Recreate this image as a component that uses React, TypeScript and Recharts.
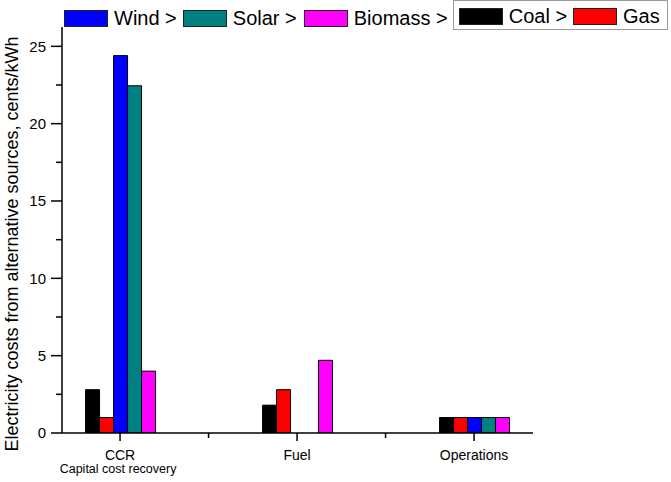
import React from "react"
import { Bar, BarChart, Customized, XAxis, YAxis } from "recharts"

// category centres sit on a numeric axis so the outer gaps match the original plot
const categories = ["CCR", "Fuel", "Operations"]
const categorySubtitles = ["Capital cost recovery", "", ""]
const categoryPositions = [1, 2, 3]

const coal = [2.8, 1.8, 1.0]
const gas = [1.0, 2.8, 1.0]
const wind = [24.4, 0, 1.0]
const solar = [22.45, 0, 1.0]
const biomass = [4.0, 4.7, 1.0]

const yTicks = [0, 2.5, 5, 7.5, 10, 12.5, 15, 17.5, 20, 22.5, 25]
const xTicks = [1, 1.5, 2, 2.5, 3]

const series = [
  { key: "coal", name: "Coal", color: "#000000", values: coal },
  { key: "gas", name: "Gas", color: "#ff0000", values: gas },
  { key: "wind", name: "Wind", color: "#0000ff", values: wind },
  { key: "solar", name: "Solar", color: "#008080", values: solar },
  { key: "biomass", name: "Biomass", color: "#ff00ff", values: biomass }
]

const data = categories.map((name, i) => {
  const row: Record<string, number | string> = { name, pos: categoryPositions[i] }
  series.forEach((s) => {
    row[s.key] = s.values[i]
  })
  return row
})

const FONT = "'Liberation Sans', Arial, sans-serif"
const WIDTH = 671
const HEIGHT = 482

function XTick(props: any) {
  const { x, y, payload } = props
  const v = payload.value
  const idx = categoryPositions.indexOf(v)
  if (idx < 0) {
    return <line x1={x} x2={x} y1={y} y2={y + 5} stroke="#000" strokeWidth={1.5} />
  }
  return (
    <g>
      <line x1={x} x2={x} y1={y} y2={y + 8} stroke="#000" strokeWidth={1.5} />
      <text x={x} y={y + 27} textAnchor="middle" fontSize={14} fill="#000">
        {categories[idx]}
      </text>
      {categorySubtitles[idx] && (
        <text x={x - 2} y={y + 40} textAnchor="middle" fontSize={12.5} fill="#000">
          {categorySubtitles[idx]}
        </text>
      )}
    </g>
  )
}

function YTick(props: any) {
  const { x, y, payload } = props
  const v = payload.value
  if (v % 5 !== 0) {
    return <line x1={x - 6} x2={x} y1={y} y2={y} stroke="#000" strokeWidth={1.5} />
  }
  return (
    <g>
      <line x1={x - 11} x2={x} y1={y} y2={y} stroke="#000" strokeWidth={1.5} />
      <text x={x - 16} y={y} dy="0.36em" textAnchor="end" fontSize={15} fill="#000">
        {v}
      </text>
    </g>
  )
}

function Swatch({ color, width = 44 }: { color: string; width?: number }) {
  return (
    <span
      style={{
        display: "inline-block",
        flex: "none",
        width,
        height: 17,
        background: color,
        border: "1px solid #222",
        boxSizing: "border-box",
        marginRight: 6
      }}
    />
  )
}

function LegendRow() {
  const byName = (n: string) => series.find((s) => s.name === n)!
  const item = (n: string, label: string, gap: number) => (
    <span style={{ display: "inline-flex", alignItems: "center", marginRight: gap, whiteSpace: "nowrap" }}>
      <Swatch color={byName(n).color} />
      <span style={{ whiteSpace: "nowrap" }}>{label}</span>
    </span>
  )
  return (
    <div
      style={{
        position: "absolute",
        left: 64,
        top: 0,
        height: 36,
        width: 620,
        display: "flex",
        alignItems: "center",
        whiteSpace: "nowrap",
        fontFamily: FONT,
        fontSize: 20,
        lineHeight: "20px",
        color: "#000"
      }}
    >
      {item("Wind", "Wind >", 6)}
      {item("Solar", "Solar >", 7)}
      {item("Biomass", "Biomass >", 5)}
      <span
        style={{
          display: "inline-flex",
          alignItems: "center",
          border: "1px solid #9a9a9a",
          padding: "5px 7px 3px 5px",
          marginTop: -6,
          whiteSpace: "nowrap"
        }}
      >
        {item("Coal", "Coal >", 6)}
        {item("Gas", "Gas", 0)}
      </span>
    </div>
  )
}

function AxisTitle() {
  return (
    <text
      x={18}
      y={244}
      transform="rotate(-90, 18, 244)"
      textAnchor="middle"
      fontSize={18}
      fill="#000"
      fontFamily={FONT}
    >
      Electricity costs from alternative sources, cents/kWh
    </text>
  )
}

export default function App() {
  return (
    <div style={{ position: "absolute", left: 0, top: 0, width: WIDTH, height: HEIGHT, background: "#fff" }}>
      <BarChart
        width={WIDTH}
        height={HEIGHT}
        data={data}
        margin={{ top: 27, right: 138, bottom: 48, left: 0 }}
        barGap={0}
        style={{ fontFamily: FONT }}
      >
        <XAxis
          dataKey="pos"
          type="number"
          domain={[0.672, 3.333]}
          allowDataOverflow
          ticks={xTicks}
          interval={0}
          height={1}
          tickSize={0}
          tickMargin={0}
          tickLine={false}
          tick={<XTick />}
          axisLine={{ stroke: "#000", strokeWidth: 1.5 }}
        />
        <YAxis
          type="number"
          domain={[0, 26.25]}
          allowDataOverflow
          ticks={yTicks}
          interval={0}
          width={62}
          tickSize={0}
          tickMargin={0}
          tickLine={false}
          tick={<YTick />}
          axisLine={{ stroke: "#000", strokeWidth: 1.5 }}
        />
        {series.map((s) => (
          <Bar
            key={s.key}
            dataKey={s.key}
            name={s.name}
            fill={s.color}
            stroke="#000"
            strokeWidth={1}
            barSize={14}
            isAnimationActive={false}
          />
        ))}
        <Customized component={<AxisTitle />} />
      </BarChart>
      <LegendRow />
    </div>
  )
}
